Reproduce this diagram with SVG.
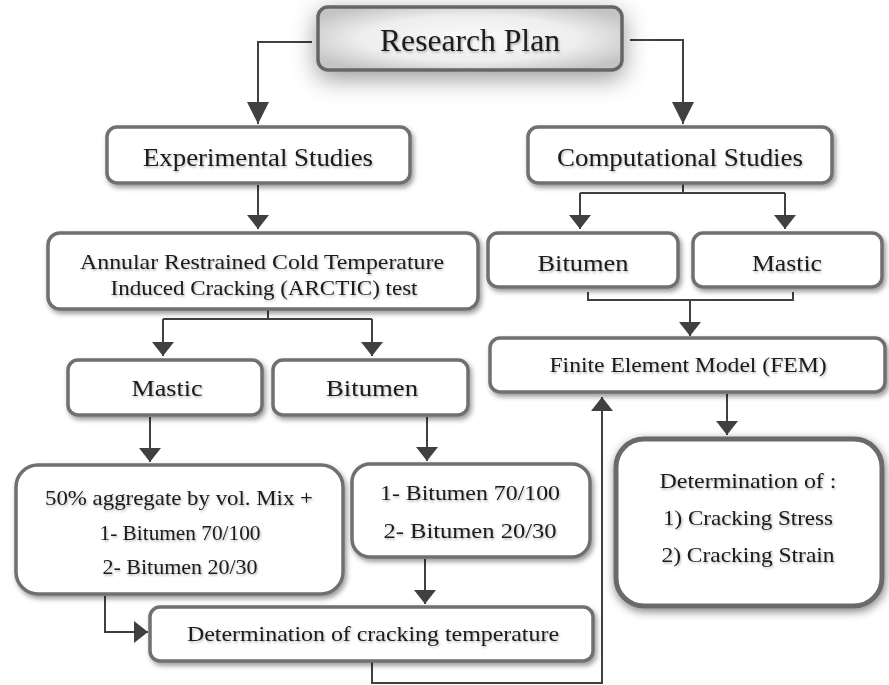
<svg xmlns="http://www.w3.org/2000/svg" width="889" height="685" viewBox="0 0 889 685">
<defs>
<style>
.box{fill:#fff;stroke:#6f6f6f;stroke-width:3.5;filter:url(#sh)}
.t{font-family:"Liberation Serif","Times New Roman",serif;fill:#1a1a1a;text-anchor:middle;dominant-baseline:central;filter:url(#tsh)}
.c{fill:none;stroke:#404040;stroke-width:2}
.a{marker-end:url(#arr)}
.ab{marker-end:url(#arrb)}
</style>
<filter id="sh" x="-20%" y="-30%" width="140%" height="170%">
<feDropShadow dx="2" dy="3" stdDeviation="2.5" flood-color="#000" flood-opacity="0.4"/>
</filter>
<filter id="glow" x="-30%" y="-80%" width="160%" height="260%">
<feGaussianBlur in="SourceAlpha" stdDeviation="12" result="b"/>
<feOffset dx="0" dy="7" in="b" result="o"/>
<feFlood flood-color="#000" flood-opacity="0.4"/>
<feComposite in2="o" operator="in" result="s"/>
<feMerge><feMergeNode in="s"/><feMergeNode in="SourceGraphic"/></feMerge>
</filter>
<filter id="glow2" x="-20%" y="-20%" width="140%" height="140%">
<feGaussianBlur in="SourceAlpha" stdDeviation="5" result="b"/>
<feOffset dx="1" dy="3" in="b" result="o"/>
<feFlood flood-color="#000" flood-opacity="0.5"/>
<feComposite in2="o" operator="in" result="s"/>
<feMerge><feMergeNode in="s"/><feMergeNode in="SourceGraphic"/></feMerge>
</filter>
<filter id="tsh" x="-5%" y="-30%" width="110%" height="160%">
<feDropShadow dx="1" dy="1.5" stdDeviation="1" flood-color="#000" flood-opacity="0.3"/>
</filter>
<radialGradient id="rg" cx="50%" cy="50%" r="60%">
<stop offset="0" stop-color="#fafafa"/>
<stop offset="0.6" stop-color="#eeeeee"/>
<stop offset="1" stop-color="#c4c4c4"/>
</radialGradient>
<marker id="arr" viewBox="0 0 14 22" refX="14" refY="11" markerWidth="14" markerHeight="22" markerUnits="userSpaceOnUse" orient="auto">
<path d="M0,0 L14,11 L0,22 z" fill="#404040"/>
</marker>
<marker id="arrb" viewBox="0 0 22 22" refX="22" refY="11" markerWidth="22" markerHeight="22" markerUnits="userSpaceOnUse" orient="auto">
<path d="M0,0 L22,11 L0,22 z" fill="#404040"/>
</marker>
</defs>
<rect width="889" height="685" fill="#fff"/>

<g id="connectors">
<path class="c ab" d="M312,42 H258 V124"/>
<path class="c ab" d="M630,40 H683 V124"/>
<path class="c a" d="M258,185 V229"/>
<path class="c" d="M683,184 V193 M580,193 H785"/>
<path class="c a" d="M580,193 V229"/>
<path class="c a" d="M785,193 V229"/>
<path class="c" d="M588,292 V300 H793 V292"/>
<path class="c a" d="M690,300 V336"/>
<path class="c" d="M268,310 V319 M163,319 H372"/>
<path class="c a" d="M163,319 V356"/>
<path class="c a" d="M372,319 V356"/>
<path class="c a" d="M150,417 V462"/>
<path class="c a" d="M427,417 V461"/>
<path class="c a" d="M727,394 V435"/>
<path class="c a" d="M105,596 V632 H148"/>
<path class="c a" d="M425,559 V604"/>
<path class="c a" d="M372,662 V683 H602 V397"/>
</g>

<g id="research-plan">
<rect x="318" y="7" width="304" height="63" rx="10" fill="url(#rg)" stroke="#666" stroke-width="3.5" filter="url(#glow)"/>
<text class="t" x="470" y="40" font-size="31" textLength="180" lengthAdjust="spacingAndGlyphs">Research Plan</text>
</g>

<g id="experimental">
<rect class="box" x="107" y="127" width="303" height="56" rx="10"/>
<text class="t" x="258" y="157" font-size="25" textLength="230" lengthAdjust="spacingAndGlyphs">Experimental Studies</text>
</g>

<g id="computational">
<rect class="box" x="528" y="127" width="304" height="56" rx="10"/>
<text class="t" x="680" y="157" font-size="25" textLength="246" lengthAdjust="spacingAndGlyphs">Computational Studies</text>
</g>

<g id="arctic">
<rect class="box" x="48" y="233" width="430" height="76" rx="12"/>
<text class="t" x="262" y="262" font-size="21" textLength="364" lengthAdjust="spacingAndGlyphs">Annular Restrained Cold Temperature</text>
<text class="t" x="264" y="288" font-size="21" textLength="307" lengthAdjust="spacingAndGlyphs">Induced Cracking (ARCTIC) test</text>
</g>

<g id="bitumen-comp">
<rect class="box" x="488" y="233" width="190" height="54" rx="10"/>
<text class="t" x="583" y="263" font-size="24" textLength="91" lengthAdjust="spacingAndGlyphs">Bitumen</text>
</g>

<g id="mastic-comp">
<rect class="box" x="693" y="233" width="189" height="54" rx="10"/>
<text class="t" x="787" y="263" font-size="24" textLength="70" lengthAdjust="spacingAndGlyphs">Mastic</text>
</g>

<g id="fem">
<rect class="box" x="490" y="338" width="395" height="54" rx="10"/>
<text class="t" x="688" y="365" font-size="21" textLength="277" lengthAdjust="spacingAndGlyphs">Finite Element Model (FEM)</text>
</g>

<g id="mastic-exp">
<rect class="box" x="68" y="360" width="194" height="55" rx="10"/>
<text class="t" x="167" y="388" font-size="24" textLength="71" lengthAdjust="spacingAndGlyphs">Mastic</text>
</g>

<g id="bitumen-exp">
<rect class="box" x="273" y="360" width="195" height="55" rx="10"/>
<text class="t" x="372" y="388" font-size="24" textLength="92" lengthAdjust="spacingAndGlyphs">Bitumen</text>
</g>

<g id="mastic-mix">
<rect class="box" x="16" y="465" width="327" height="129" rx="22"/>
<text class="t" x="179" y="498" font-size="21" textLength="268" lengthAdjust="spacingAndGlyphs">50% aggregate by vol. Mix +</text>
<text class="t" x="180" y="533" font-size="21" textLength="161" lengthAdjust="spacingAndGlyphs">1- Bitumen 70/100</text>
<text class="t" x="180" y="567" font-size="21" textLength="155" lengthAdjust="spacingAndGlyphs">2- Bitumen 20/30</text>
</g>

<g id="bitumen-grades">
<rect class="box" x="352" y="464" width="238" height="93" rx="18"/>
<text class="t" x="470" y="493" font-size="21" textLength="180" lengthAdjust="spacingAndGlyphs">1- Bitumen 70/100</text>
<text class="t" x="470" y="531" font-size="21" textLength="173" lengthAdjust="spacingAndGlyphs">2- Bitumen 20/30</text>
</g>

<g id="cracking-temp">
<rect class="box" x="150" y="607" width="443" height="54" rx="10"/>
<text class="t" x="373" y="634" font-size="21" textLength="372" lengthAdjust="spacingAndGlyphs">Determination of cracking temperature</text>
</g>

<g id="determination">
<rect x="616" y="439" width="266" height="167" rx="28" fill="#fff" stroke="#6a6a6a" stroke-width="5" filter="url(#glow2)"/>
<text class="t" x="748" y="481" font-size="21" textLength="177" lengthAdjust="spacingAndGlyphs">Determination of :</text>
<text class="t" x="748" y="518" font-size="21" textLength="170" lengthAdjust="spacingAndGlyphs">1) Cracking Stress</text>
<text class="t" x="748" y="555" font-size="21" textLength="173" lengthAdjust="spacingAndGlyphs">2) Cracking Strain</text>
</g>
</svg>
